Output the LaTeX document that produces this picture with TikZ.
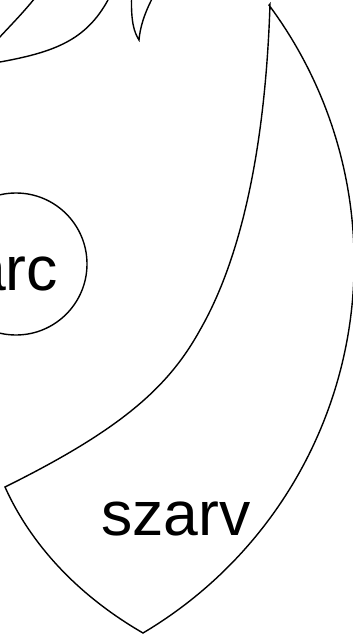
\documentclass[tikz,border=0pt]{standalone}
\usepackage{fontspec}
\setmainfont{Liberation Sans}
\tikzset{
  every picture/.style={line width=1.4pt},
  outline/.style={draw=black, line width=1.4pt},
  biglbl/.style={font=\fontsize{62.5}{72}\selectfont, inner sep=0pt},
  face/.style={outline, circle, minimum size=142pt, inner sep=0pt},
}
\begin{document}
\begin{tikzpicture}[x=1pt, y=-1pt]
  \useasboundingbox (0,0) rectangle (353,634);
  \clip (0,0) rectangle (353,634);
  % face
  \node[face] (arc) at (16,264) {};
  \node[biglbl, anchor=base] (arclbl) at (14.5,290) {arc};
  % horn
  \coordinate (tip) at (270,4);
  \coordinate (bend) at (200,330);
  \coordinate (corner) at (5,487);
  \coordinate (bottom) at (143,633);
  \draw[outline] (tip) .. controls (266,130) and (246,250) .. (bend)
    .. controls (168,388) and (120,430) .. (corner)
    .. controls (22,525) and (60,585) .. (bottom)
    arc[start angle=59.33, end angle=-36.63, radius=431] -- cycle;
  \node[biglbl, anchor=base] (szarv) at (176,535) {szarv};
  % small horn at the top
  \coordinate (stip) at (139,40);
  \draw[outline] (131.5,-3) .. controls (131,22) and (134,32) .. (stip)
    .. controls (140,28) and (144,14) .. (153,-3);
  % curves of the left part
  \draw[outline] (-2,39) .. controls (10,26) and (22,14) .. (35,-2);
  \draw[outline] (0,62) .. controls (55,52) and (86,40) .. (108,0);
\end{tikzpicture}
\end{document}
